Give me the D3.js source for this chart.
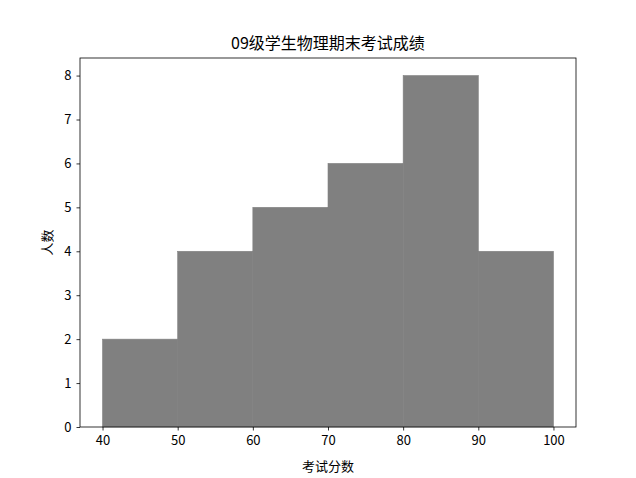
<!DOCTYPE html>
<html><head><meta charset="utf-8">
<script src="https://cdn.jsdelivr.net/npm/d3@7"></script>
<style>body{margin:0;background:#fff}svg{display:block}text{font-family:"Noto Sans CJK SC","DejaVu Sans",sans-serif}</style>
</head><body>
<script>
const binEdges = [40, 50, 60, 70, 80, 90, 100];
const counts = [2, 4, 5, 6, 8, 4];
const yTicks = [0, 1, 2, 3, 4, 5, 6, 7, 8];
const xTicks = [40, 50, 60, 70, 80, 90, 100];
const title = "09级学生物理期末考试成绩";
const xLabel = "考试分数";
const yLabel = "人数";

const W = 636, H = 478;
const L = 80, R = 576, T = 58, B = 427;
const svg = d3.select("body").append("svg").attr("width", W).attr("height", H);
const x = d3.scaleLinear().domain([37, 103]).range([L, R]);
const y = d3.scaleLinear().domain([0, 8.4]).range([B, T]);

svg.selectAll("rect.bar").data(counts).enter().append("rect")
  .attr("x", (d, i) => x(binEdges[i]))
  .attr("width", (d, i) => x(binEdges[i + 1]) - x(binEdges[i]))
  .attr("y", d => y(d))
  .attr("height", d => y(0) - y(d))
  .attr("fill", "#808080")
  .attr("stroke", "#808080").attr("stroke-width", 0.6);

const xa = svg.append("g").attr("transform", `translate(0,${B})`)
  .call(d3.axisBottom(x).tickValues(xTicks).tickSize(3.5).tickPadding(5).tickSizeOuter(0));
const ya = svg.append("g").attr("transform", `translate(${L},0)`)
  .call(d3.axisLeft(y).tickValues(yTicks).tickSize(3.5).tickPadding(5).tickSizeOuter(0));
[xa, ya].forEach(a => {
  a.select(".domain").remove();
  a.selectAll("text").attr("font-size", 13).attr("fill", "#000").style("font-family", '"Noto Sans CJK SC",sans-serif');
  a.selectAll("line").attr("stroke", "#000").attr("stroke-width", 0.8);
});
svg.append("rect").attr("x", L).attr("y", T).attr("width", R - L).attr("height", B - T)
  .attr("fill", "none").attr("stroke", "#000").attr("stroke-width", 0.8);

svg.append("text").attr("x", (L + R) / 2).attr("y", T - 9).attr("text-anchor", "middle")
  .attr("font-size", 16).text(title);
svg.append("text").attr("x", (L + R) / 2).attr("y", 471).attr("text-anchor", "middle")
  .attr("font-size", 13).text(xLabel);
svg.append("text").attr("transform", `translate(52,${(T + B) / 2}) rotate(-90)`).attr("text-anchor", "middle")
  .attr("font-size", 13).text(yLabel);
</script>
</body></html>
